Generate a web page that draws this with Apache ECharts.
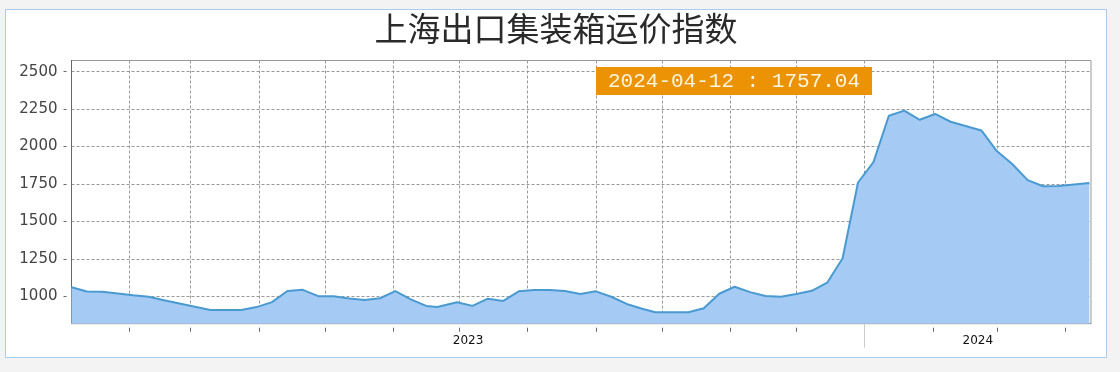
<!DOCTYPE html>
<html><head><meta charset="utf-8">
<script src="https://cdn.jsdelivr.net/npm/echarts@6/dist/echarts.min.js"></script>
<style>
html,body{margin:0;padding:0;background:#f3f3f3;width:1120px;height:372px;overflow:hidden}
#panel{position:absolute;left:5px;top:9px;width:1100px;height:347px;border:1px solid #a9cdf2;background:#fff}
#chart{width:1100px;height:347px}
</style></head><body>
<div id="panel"><div id="chart"></div></div>
<script>
const titleText = '上海出口集装箱运价指数';
const dates = [
 '2023-01-06','2023-01-13','2023-01-20','2023-02-03','2023-02-10','2023-02-17','2023-02-24',
 '2023-03-03','2023-03-10','2023-03-17','2023-03-24','2023-03-31','2023-04-07','2023-04-14',
 '2023-04-21','2023-04-28','2023-05-05','2023-05-12','2023-05-19','2023-05-26','2023-06-02',
 '2023-06-09','2023-06-16','2023-06-21','2023-06-30','2023-07-07','2023-07-14','2023-07-21',
 '2023-07-28','2023-08-04','2023-08-11','2023-08-18','2023-08-25','2023-09-01','2023-09-08',
 '2023-09-15','2023-09-22','2023-09-28','2023-10-13','2023-10-20','2023-10-27','2023-11-03',
 '2023-11-10','2023-11-17','2023-11-24','2023-12-01','2023-12-08','2023-12-15','2023-12-22',
 '2023-12-29','2024-01-05','2024-01-12','2024-01-19','2024-01-26','2024-02-02','2024-02-09',
 '2024-02-23','2024-03-01','2024-03-08','2024-03-15','2024-03-22','2024-03-29','2024-04-12'
];
const values = [
 1061,1032,1031,1007,997,974,952,
 930,908,908,908,928,961,1035,
 1043,1001,1000,985,976,987,1034,
 980,936,928,960,936,984,969,
 1033,1042,1042,1036,1016,1033,997,
 949,917,893,893,920,1017,1064,
 1028,1002,997,1015,1037,1091,1254,
 1760,1896,2206,2240,2179,2218,2166,
 2108,1970,1884,1776,1735,1736,1757.04
];
const yTicks = [1000,1250,1500,1750,2000,2250,2500];

function parseDay(s){const p=s.split('-').map(Number);return new Date(p[0],p[1]-1,p[2]).getTime();}
const last = values.length-1;
const tMin = parseDay(dates[0]);
const tMax = parseDay(dates[last]) + 18*3600*1000;
const seriesData = dates.map((d,i)=>[parseDay(d), values[i]]);

const monthTicks = [];
{ let d=new Date(tMin); let y=d.getFullYear(), m=d.getMonth()+1;
  while(true){ const t=new Date(y,m,1).getTime(); if(t>tMax)break; monthTicks.push(t); m++; if(m>11){m=0;y++;} } }
const yearStarts = [], yearMids = [];
for(let y=new Date(tMin).getFullYear(); y<=new Date(tMax).getFullYear(); y++){
  const a=Math.max(tMin,new Date(y,0,1).getTime()), b=Math.min(tMax,new Date(y+1,0,1).getTime());
  yearMids.push((a+b)/2);
  const s=new Date(y,0,1).getTime(); if(s>tMin && s<tMax) yearStarts.push(s);
}

const chart = echarts.init(document.getElementById('chart'));
chart.setOption({
  animation:false,
  title:[
    {text:titleText,left:'center',top:2,padding:0,
     textStyle:{fontFamily:'Noto Sans CJK SC',fontSize:33,fontWeight:'normal',color:'#2a2a2a'}},
    {text:dates[last]+' : '+values[last].toFixed(2),left:590,top:57,padding:[4,12,3,12],
     backgroundColor:'#eb9205',
     textStyle:{fontFamily:'Liberation Mono',fontSize:21,fontWeight:'normal',color:'#fff6e0',lineHeight:21}}
  ],
  grid:{show:true,borderColor:'#999',borderWidth:1,left:65.5,right:15,top:50.5,bottom:33.3},
  xAxis:[
    {type:'value',position:'bottom',min:tMin,max:tMax,scale:true,
     axisLine:{show:true,onZero:false,lineStyle:{color:'#999'}},
     axisTick:{show:true,customValues:monthTicks,length:8,lineStyle:{color:'#666',type:[4,4],dashOffset:4}},
     axisLabel:{show:false,customValues:monthTicks},
     splitLine:{show:true,lineStyle:{color:'#999',type:[3,2]}}},
    {type:'value',position:'bottom',min:tMin,max:tMax,scale:true,
     axisLine:{show:false,onZero:false},
     axisTick:{show:true,customValues:yearStarts,length:24,lineStyle:{color:'#ccc'}},
     axisLabel:{show:true,customValues:yearMids,formatter:v=>String(new Date(v).getFullYear()),
       margin:11,fontFamily:'DejaVu Sans',fontSize:12,color:'#111'},
     splitLine:{show:false}}
  ],
  yAxis:{type:'value',min:817,max:2575,
    axisLine:{show:true,lineStyle:{color:'#666'}},
    axisTick:{show:true,customValues:yTicks,length:8,lineStyle:{color:'#666',type:[3,5],dashOffset:3}},
    axisLabel:{customValues:yTicks,formatter:v=>String(v),margin:14,fontFamily:'DejaVu Sans',fontSize:15,color:'#444'},
    splitLine:{show:true,lineStyle:{color:'#999',type:[3,2]}}},
  series:[{type:'line',xAxisIndex:0,data:seriesData,showSymbol:false,symbol:'none',
    lineStyle:{color:'#4a9ad2',width:2},areaStyle:{color:'#a5caf4',opacity:1}}]
});
</script></body></html>
